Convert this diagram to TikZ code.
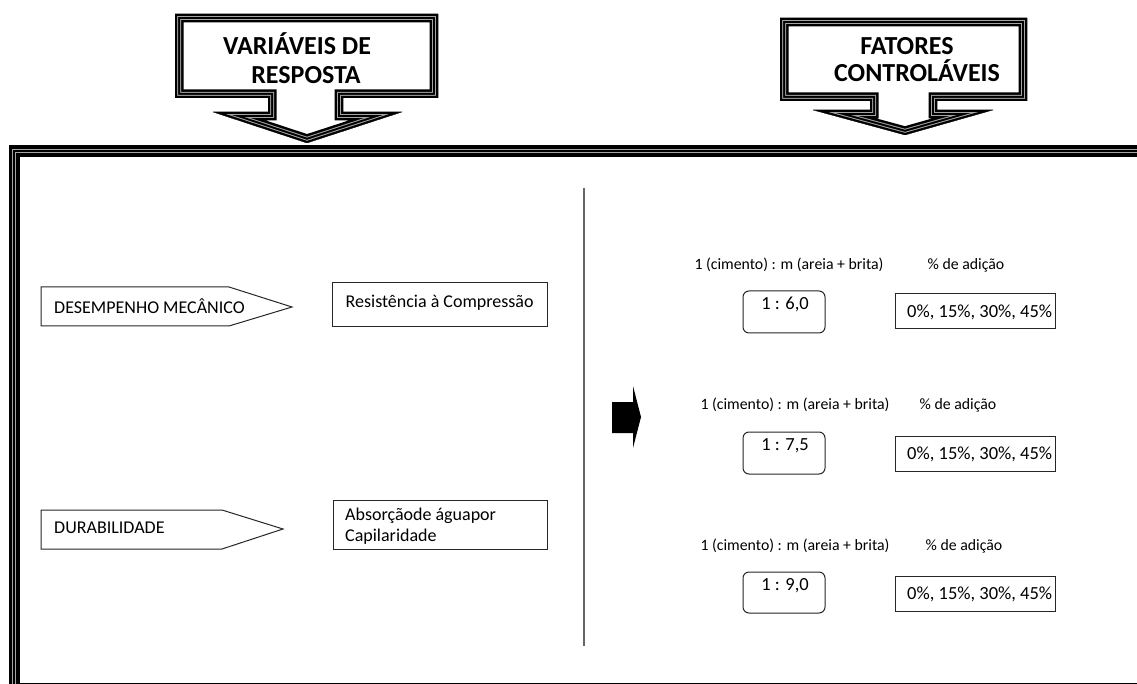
\documentclass[tikz,border=0pt]{standalone}
\usepackage{fontspec}
\setmainfont{Carlito}
% #1 band widths (outer black, gray, black, gray, inner black) given as doubled stroke widths
\newcommand\tripleband[6]{%
  \begin{scope}
    \clip #6;
    \draw[black, line width=#1pt, bandjoin] #6;
    \draw[bandgray, line width=#2pt, bandjoin] #6;
    \draw[black, line width=#3pt, bandjoin] #6;
    \draw[bandgray, line width=#4pt, bandjoin] #6;
    \draw[black, line width=#5pt, bandjoin] #6;
  \end{scope}}
\definecolor{bandgray}{RGB}{165,165,165}
\tikzset{
  x=1pt, y=-1pt,
  bandjoin/.style={line join=miter, miter limit=40},
  thinline/.style={draw=black!85, line width=1pt},
  titletext/.style={inner sep=0pt, anchor=base, font=\fontsize{26}{29}\selectfont\bfseries},
  bodytext/.style={inner sep=0pt, anchor=base west, font=\fontsize{18}{21}\selectfont},
  labeltext/.style={inner sep=0pt, anchor=base, font=\fontsize{15.8}{19}\selectfont},
  valuetext/.style={inner sep=0pt, font=\fontsize{18.5}{22}\selectfont},
  ratiobox/.style={thinline, rounded corners=6pt},
}
\begin{document}
\begin{tikzpicture}
\path[use as bounding box, clip] (0,0) rectangle (1137,684);
\fill[white] (0,0) rectangle (1137,684);

% outer frame
\tripleband{22}{14}{12}{8}{6}{(9,146) rectangle (1165,694)}

% title callouts
\tripleband{17}{12}{10}{6}{4}{(175,14) -- (438,14) -- (438,98) -- (343,98) -- (343,112) -- (402,112) -- (307,143) -- (213,112) -- (268,112) -- (268,98) -- (175,98) -- cycle}
\tripleband{17}{12}{10}{6}{4}{(780,18) -- (1027,18) -- (1027,101) -- (937,101) -- (937,110) -- (993,110) -- (905,135) -- (813,110) -- (870,110) -- (870,101) -- (780,101) -- cycle}

\node[titletext] (t1a) at (297,55) {VARIÁVEIS DE};
\node[titletext] (t1b) at (306,84) {RESPOSTA};
\node[titletext] (t2a) at (907,55) {FATORES};
\node[titletext] (t2b) at (917,82) {CONTROLÁVEIS};

% separator
\draw[draw=black!60, line width=1.5pt] (584,188) -- (584,646);

% left side
\draw[thinline] (41,287) -- (229,287) -- (292,307) -- (229,326) -- (41,326) -- cycle;
\node[bodytext] (dm) at (54,313.8) {DESEMPENHO MECÂNICO};
\draw[thinline] (332,283) rectangle (547,327);
\node[bodytext] (rc) at (345.5,307.3) {Resistência à Compressão};

\draw[thinline] (41,510) -- (222,510) -- (283,529) -- (222,549) -- (41,549) -- cycle;
\node[bodytext] (du) at (54,533.8) {DURABILIDADE};
\draw[thinline] (333,500) rectangle (547,549);
\node[bodytext] (ab1) at (345,520.8) {Absorçãode águapor};
\node[bodytext] (ab2) at (345,541.3) {Capilaridade};

% big arrow
\fill[black] (612,402) -- (633,402) -- (633,386) -- (641,417) -- (633,448) -- (633,433) -- (612,433) -- cycle;

% right side groups
\node[labeltext] (l1a) at (789,270) {1 (cimento) : m (areia + brita)};
\node[labeltext] (l1b) at (966,270) {\% de adição};
\draw[ratiobox] (743,291) rectangle (825,333);
\node[valuetext, anchor=base] (v1a) at (785,309) {1 : 6,0};
\draw[thinline] (895,294) rectangle (1055,329);
\node[valuetext, anchor=base west] (v1b) at (907,318) {0\%, 15\%, 30\%, 45\%};

\node[labeltext] (l2a) at (795,409) {1 (cimento) : m (areia + brita)};
\node[labeltext] (l2b) at (958,409) {\% de adição};
\draw[ratiobox] (743,432) rectangle (825,474);
\node[valuetext, anchor=base] (v2a) at (785,450) {1 : 7,5};
\draw[thinline] (895,436) rectangle (1055,471);
\node[valuetext, anchor=base west] (v2b) at (907,459) {0\%, 15\%, 30\%, 45\%};

\node[labeltext] (l3a) at (795,550) {1 (cimento) : m (areia + brita)};
\node[labeltext] (l3b) at (964,550) {\% de adição};
\draw[ratiobox] (743,572) rectangle (825,613);
\node[valuetext, anchor=base] (v3a) at (785,590) {1 : 9,0};
\draw[thinline] (895,576) rectangle (1055,611);
\node[valuetext, anchor=base west] (v3b) at (907,599) {0\%, 15\%, 30\%, 45\%};
\end{tikzpicture}
\end{document}
